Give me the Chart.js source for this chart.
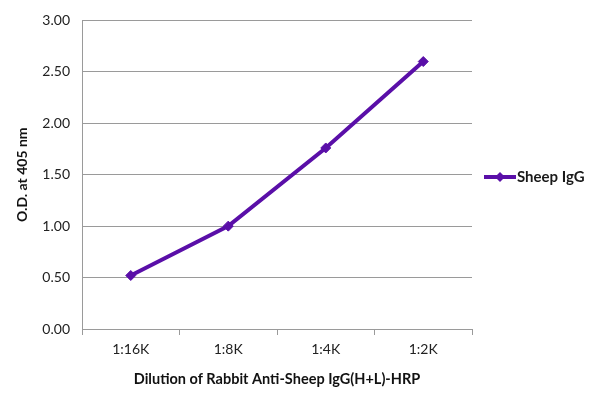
<!DOCTYPE html>
<html><head><meta charset="utf-8">
<script src="https://cdn.jsdelivr.net/npm/chart.js@4"></script>
<style>html,body{margin:0;padding:0;background:#fff}#wrap{width:600px;height:403px}</style>
</head><body><div id="wrap"><canvas id="c"></canvas></div>
<script>
const categories = ['1:16K','1:8K','1:4K','1:2K'];
const sheepIgG = [0.52, 1.00, 1.76, 2.60];
const yTicks = [0, 0.5, 1.0, 1.5, 2.0, 2.5, 3.0];
const seriesLabel = 'Sheep IgG';
const xTitle = 'Dilution of Rabbit Anti-Sheep IgG(H+L)-HRP';
const yTitle = 'O.D. at 405 nm';

const COLOR = '#5a0fa8';
const FONT = 'Lato, "Open Sans", sans-serif';

const legendPlugin = {
  id: 'sideLegend',
  afterDraw(chart) {
    const ctx = chart.ctx;
    const ds = chart.data.datasets[0];
    const y = 177;
    ctx.save();
    ctx.strokeStyle = COLOR; ctx.lineWidth = 4;
    ctx.beginPath(); ctx.moveTo(484, y); ctx.lineTo(516, y); ctx.stroke();
    ctx.fillStyle = COLOR;
    ctx.beginPath(); ctx.moveTo(500, y - 5); ctx.lineTo(505, y); ctx.lineTo(500, y + 5); ctx.lineTo(495, y); ctx.closePath(); ctx.fill();
    ctx.fillStyle = '#1a1a1a';
    ctx.font = 'bold 15px ' + FONT;
    ctx.textBaseline = 'middle';
    ctx.fillText(ds.label, 517, y);
    ctx.restore();
  }
};

new Chart(document.getElementById('c'), {
  type: 'line',
  data: {
    labels: categories,
    datasets: [{
      label: seriesLabel,
      data: sheepIgG,
      borderColor: COLOR,
      backgroundColor: COLOR,
      borderWidth: 4,
      pointStyle: 'rectRot',
      pointRadius: 5,
      pointHoverRadius: 5,
      pointBorderWidth: 1,
      tension: 0
    }]
  },
  options: {
    responsive: true,
    maintainAspectRatio: false,
    animation: false,
    layout: { padding: { left: 0, right: 128, top: 16, bottom: 0 } },
    plugins: { legend: { display: false }, tooltip: { enabled: false } },
    scales: {
      x: {
        offset: true,
        grid: { display: true, drawOnChartArea: false, drawTicks: true, tickLength: 6, offset: true, color: '#9a9a9a' },
        border: { color: '#9a9a9a', width: 1 },
        ticks: { color: '#222', font: { family: FONT, size: 14 }, padding: 6 },
        title: { display: true, text: xTitle, color: '#111', font: { family: FONT, size: 14.5, weight: 'bold' }, padding: { top: 8, bottom: 15 } },
        afterFit(s) { s.height = 74; }
      },
      y: {
        min: 0, max: 3,
        afterBuildTicks(s) { s.ticks = yTicks.map(v => ({ value: v })); },
        grid: { color: '#9a9a9a', drawTicks: false },
        border: { color: '#9a9a9a', width: 1 },
        ticks: { color: '#222', font: { family: FONT, size: 14 }, padding: 12, callback: v => Number(v).toFixed(2) },
        title: { display: true, text: yTitle, color: '#111', font: { family: FONT, size: 14, weight: 'bold' }, padding: { top: 14, bottom: 8 } },
        afterFit(s) { s.width = 82; }
      }
    }
  },
  plugins: [legendPlugin]
});
</script>
</body></html>
